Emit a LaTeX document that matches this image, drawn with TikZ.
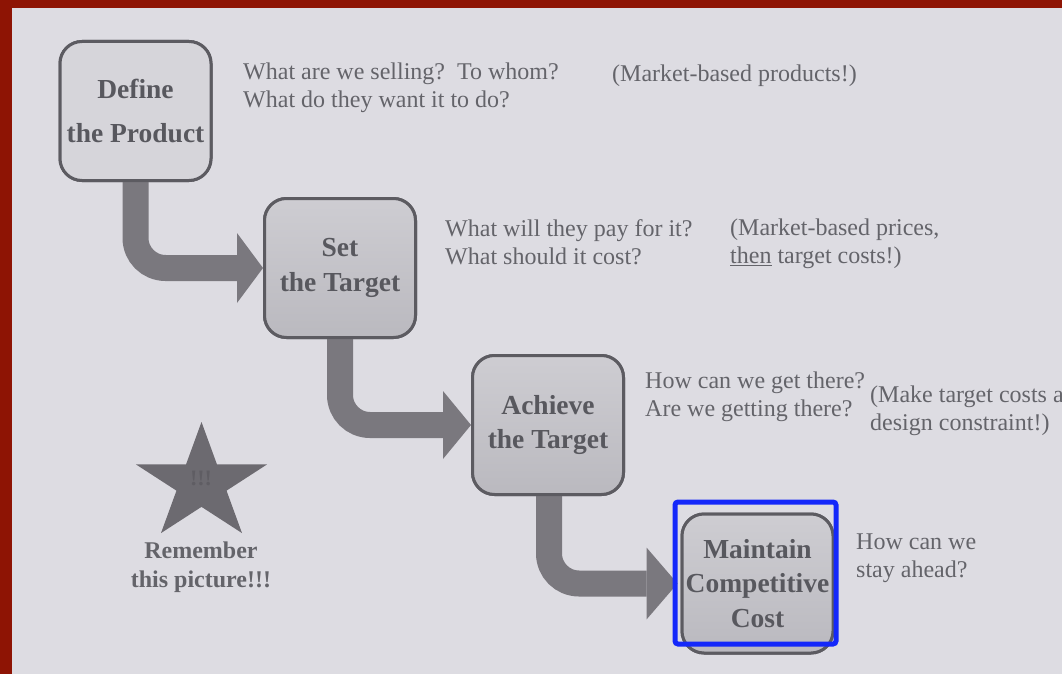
\documentclass[tikz,border=0pt]{standalone}
\usepackage{fontspec}
\setmainfont{Liberation Serif}
\usetikzlibrary{calc}

\definecolor{paper}{RGB}{221,220,226}
\definecolor{frame}{RGB}{142,20,4}
\definecolor{ink}{RGB}{88,88,94}
\definecolor{softink}{RGB}{100,100,106}
\definecolor{boxline}{RGB}{92,91,97}
\definecolor{arrowc}{RGB}{122,120,126}
\definecolor{boxlight}{RGB}{214,213,218}
\definecolor{boxtop}{RGB}{206,205,210}
\definecolor{boxbot}{RGB}{186,185,191}
\definecolor{starc}{RGB}{108,106,112}
\definecolor{mark}{RGB}{20,40,250}

\tikzset{
  stage/.style={draw=boxline, line width=3pt, rounded corners=22pt,
    minimum width=151pt, minimum height=139pt, inner sep=0pt,
    align=center, text=ink,
    font=\fontsize{27.5}{34.5}\selectfont\bfseries},
  stagefirst/.style={stage, fill=boxlight},
  stagedark/.style={stage, top color=boxtop, bottom color=boxbot},
  note/.style={anchor=west, align=left, inner sep=0pt, text=softink,
    font=\fontsize{24}{28.5}\selectfont},
  shaft/.style={draw=arrowc, line width=26pt, rounded corners=30pt},
  head/.style={fill=arrowc},
  highlight/.style={draw=mark, line width=5pt, rounded corners=3pt}
}

\begin{document}
\begin{tikzpicture}[x=1pt, y=-1pt]
  \useasboundingbox (0,0) rectangle (1062,674);
  % paper and the dark red surround
  \fill[paper] (0,0) rectangle (1062,674);
  \fill[frame] (0,0) rectangle (12,674);
  \fill[frame] (0,0) rectangle (1062,8);

  % the four stages
  \node[stagefirst] (define) at (135.5,111) {Define\\[10pt]the Product};
  \node[stagedark] (set) at (340,268) {Set\\the Target};
  \node[stagedark] (achieve) at (548,425) {Achieve\\the Target};
  \node[stagedark] (maintain) at (757.5,583.5) {Maintain\\Competitive\\Cost};

  % bent block arrows between stages
  \coordinate (h1) at ($(set.west)+(-26,0)$);
  \coordinate (h2) at ($(achieve.west)+(-28,0)$);
  \coordinate (h3) at ($(maintain.west)+(-34,0)$);
  \draw[shaft] (define.south) |- (h1);
  \fill[head] ($(h1)+(0,-35)$) -- (set.west) -- ($(h1)+(0,35)$) -- cycle;
  \draw[shaft] (set.south) |- (h2);
  \fill[head] ($(h2)+(0,-34)$) -- (achieve.west) -- ($(h2)+(0,34)$) -- cycle;
  \draw[shaft] ($(achieve.south)+(1,0)$) |- (h3);
  \fill[head] ($(h3)+(0,-36)$) -- ($(maintain.west)+(-3,0)$) -- ($(h3)+(0,36)$) -- cycle;

  % redraw the stages above the arrow shafts
  \node[stagefirst] at (define) {Define\\[10pt]the Product};
  \node[stagedark] at (set) {Set\\the Target};
  \node[stagedark] at (achieve) {Achieve\\the Target};
  \node[stagedark] at (maintain) {Maintain\\Competitive\\Cost};

  % questions and remarks beside each stage
  \node[note] (q1) at (243,88) {What are we selling?\enspace To whom?\\What do they want it to do?};
  \node[note] (r1) at (612,76) {(Market-based products!)};
  \node[note] (q2) at (445,242) {What will they pay for it?\\What should it cost?};
  \node[note] (r2) at (730,244) {(Market-based prices,\\\underline{then} target costs!)};
  \node[note] (q3) at (645,397) {How can we get there?\\Are we getting there?};
  \node[note] (r3) at (870,411) {(Make target costs a\\design constraint!)};
  \node[note] (q4) at (856,558) {How can we\\stay ahead?};

  % the star and its caption
  \fill[starc, shift={(201.5,483.4)}, xscale=68.9, yscale=61.4]
    (-90:1) -- (-54:0.382) -- (-18:1) -- (18:0.382) -- (54:1) --
    (90:0.382) -- (126:1) -- (162:0.382) -- (198:1) -- (234:0.382) -- cycle;
  \node[text=starc!88!black, font=\fontsize{22}{22}\selectfont\bfseries, inner sep=0pt]
    (bang) at (201,478) {!!!};
  \node[text=softink, align=center, inner sep=0pt,
    font=\fontsize{24}{29}\selectfont\bfseries] (remember) at (201,567)
    {Remember\\this picture!!!};

  % highlight round the last stage
  \draw[highlight] (675,502) rectangle (836,644);
\end{tikzpicture}
\end{document}
